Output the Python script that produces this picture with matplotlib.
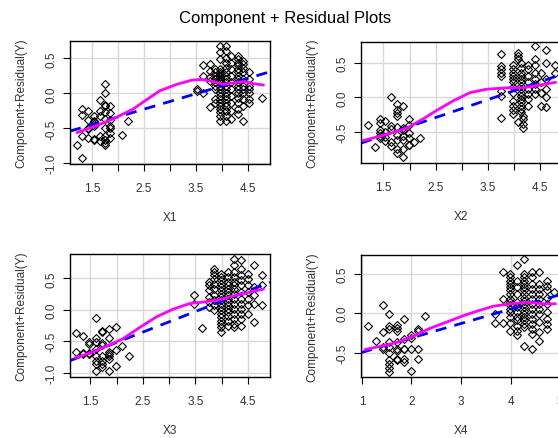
import matplotlib
matplotlib.use("Agg")
import matplotlib.pyplot as plt

plt.rcParams['font.family'] = ['Liberation Sans', 'DejaVu Sans']
plt.rcParams['axes.unicode_minus'] = False

title = "Component + Residual Plots"
ylabel = "Component+Residual(Y)"

# ---- X1 ----
x1_cols = [1.22, 1.31, 1.42, 1.55, 1.65, 1.76, 1.85, 2.07, 2.20,
           3.52, 3.63, 3.76, 3.86, 3.96, 4.07, 4.17, 4.30, 4.40, 4.51, 4.76]
y1_cols = [[-0.74], [-0.23, -0.31, -0.61, -0.92], [-0.25, -0.38, -0.49, -0.51, -0.64],
           [-0.32, -0.40, -0.41, -0.44, -0.46, -0.65, -0.67], [-0.10, -0.25, -0.33, -0.61, -0.68],
           [0.13, 0.00, -0.16, -0.18, -0.26, -0.37, -0.49, -0.61, -0.67, -0.71, -0.74],
           [-0.18, -0.28, -0.38, -0.47, -0.50, -0.57, -0.64], [-0.60], [-0.39],
           [0.06, 0.04], [0.40, 0.25, 0.01], [0.42, 0.32, 0.23, 0.18, -0.20],
           [0.35, 0.30, 0.25, 0.20, 0.16, 0.11, 0.06, -0.08, -0.13],
           [0.68, 0.59, 0.49, 0.35, 0.30, 0.28, 0.25, 0.23, 0.20, 0.18, 0.16, 0.11, 0.06, 0.01,
            -0.03, -0.08, -0.13, -0.18, -0.22, -0.27, -0.32, -0.39],
           [0.68, 0.61, 0.51, 0.44, 0.37, 0.30, 0.25, 0.20, 0.16, 0.11, 0.06, 0.01, -0.03,
            -0.08, -0.13, -0.18, -0.25, -0.32, -0.39],
           [0.54, 0.44, 0.35, 0.25, 0.16, 0.06, -0.03, -0.13, -0.25, -0.37],
           [0.54, 0.49, 0.44, 0.40, 0.35, 0.30, 0.25, 0.20, 0.16, 0.11, 0.06, 0.01, -0.06,
            -0.13, -0.22, -0.30],
           [0.47, 0.42, 0.37, 0.30, 0.20, 0.11, 0.06, 0.01, -0.08, -0.18, -0.39],
           [0.30, 0.20, 0.11, 0.06, 0.01, -0.08, -0.13], [-0.06]]
x1_fit = [1.08, 4.92]
y1_fit = [-0.54, 0.31]
x1_smooth = [1.22, 1.60, 1.98, 2.30, 2.55, 2.81, 3.13, 3.42, 3.61, 3.83, 4.02, 4.21, 4.44, 4.60, 4.79]
y1_smooth = [-0.56, -0.46, -0.34, -0.22, -0.09, 0.04, 0.13, 0.19, 0.20, 0.17, 0.13, 0.15, 0.17, 0.14, 0.12]

# ---- X2 ----
x2_cols = [1.21, 1.34, 1.43, 1.53, 1.64, 1.75, 1.87, 1.98, 2.09, 2.20,
           3.75, 3.98, 4.08, 4.14, 4.18, 4.27, 4.40, 4.51, 4.62, 4.78]
y2_cols = [[-0.41], [-0.73], [-0.32, -0.37, -0.47, -0.52, -0.56, -0.60], [-0.34, -0.51, -0.58, -0.64],
           [0.01, -0.42, -0.46, -0.65, -0.71],
           [-0.10, -0.19, -0.23, -0.27, -0.44, -0.55, -0.63, -0.76, -0.82],
           [-0.12, -0.45, -0.48, -0.56, -0.63, -0.75, -0.87],
           [-0.31, -0.40, -0.52, -0.60, -0.69, -0.70], [-0.65], [-0.59],
           [0.63, 0.46, 0.41, 0.36, 0.31, 0.10, 0.02, -0.30],
           [0.48, 0.41, 0.36, 0.31, 0.27, 0.22, 0.15, 0.07, -0.05, -0.12, -0.19, -0.24],
           [0.65, 0.60, 0.56, -0.36],
           [0.51, 0.43, 0.36, 0.31, 0.27, 0.22, 0.17, 0.12, 0.07, 0.02, -0.02, -0.07, -0.12,
            -0.17, -0.22],
           [-0.27, -0.31, -0.39, -0.45],
           [0.48, 0.41, 0.31, 0.22, 0.12, 0.05, -0.02, -0.12],
           [0.75, 0.56, 0.48, 0.36, 0.27, 0.19, 0.12, 0.05],
           [0.36, 0.22, 0.07, -0.12], [0.70, 0.51, 0.27, 0.12, 0.00, -0.14], [0.48, 0.36]]
x2_fit = [1.07, 4.85]
y2_fit = [-0.67, 0.32]
x2_smooth = [1.12, 1.62, 1.95, 2.27, 2.52, 2.84, 3.16, 3.48, 3.86, 4.18, 4.50, 4.79]
y2_smooth = [-0.63, -0.53, -0.45, -0.31, -0.19, -0.05, 0.07, 0.12, 0.14, 0.14, 0.18, 0.22]

# ---- X3 ----
x3_cols = [1.23, 1.35, 1.48, 1.61, 1.72, 1.85, 1.98, 2.10, 2.24,
           3.48, 3.62, 3.75, 3.86, 3.99, 4.12, 4.24, 4.37, 4.50, 4.62, 4.76]
y3_cols = [[-0.37, -0.67], [-0.41, -0.69, -0.71], [-0.51, -0.54, -0.68, -0.71],
           [-0.13, -0.45, -0.52, -0.62, -0.73, -0.81, -0.86, -0.97],
           [-0.33, -0.36, -0.53, -0.56, -0.73, -0.81, -0.86, -0.91],
           [-0.31, -0.45, -0.67, -0.70, -0.74, -0.78, -0.98],
           [-0.28, -0.64, -0.89], [-0.58], [-0.73],
           [0.23, 0.10], [-0.29], [0.44, 0.39, 0.31, 0.20, 0.12, 0.04],
           [0.65, 0.60, 0.55, 0.49, 0.41, 0.33, 0.23, 0.15, 0.07, -0.01],
           [0.57, 0.52, 0.47, 0.41, 0.36, 0.31, 0.26, 0.20, 0.15, 0.10, 0.04, -0.01, -0.06,
            -0.12, -0.17, -0.22, -0.28, -0.36],
           [0.60, 0.52, 0.44, 0.39, 0.33, 0.28, 0.23, 0.18, 0.12, 0.07, 0.02, -0.04, -0.09,
            -0.17, -0.25],
           [0.81, 0.71, 0.60, 0.52, 0.44, 0.39, 0.33, 0.26, 0.18, 0.10, 0.02, -0.06, -0.14,
            -0.22, -0.28],
           [0.79, 0.65, 0.55, 0.47, 0.39, 0.28, 0.18, 0.10, 0.02, -0.06, -0.14, -0.25],
           [0.57, 0.49, 0.39, 0.28, 0.18, 0.07, -0.06],
           [0.71, 0.36, 0.23, 0.10, -0.20], [0.55, 0.39, 0.07]]
x3_fit = [1.11, 4.92]
y3_fit = [-0.81, 0.44]
x3_smooth = [1.22, 1.52, 1.80, 2.12, 2.44, 2.76, 3.07, 3.39, 3.71, 3.96, 4.22, 4.53, 4.79]
y3_smooth = [-0.76, -0.68, -0.58, -0.46, -0.28, -0.11, 0.01, 0.10, 0.13, 0.16, 0.22, 0.28, 0.33]

# ---- X4 ----
x4_cols = [1.13, 1.28, 1.42, 1.55, 1.70, 1.85, 1.99, 2.14, 2.27,
           3.69, 3.85, 3.99, 4.14, 4.28, 4.43, 4.58, 4.73, 4.88]
y4_cols = [[-0.16], [-0.35], [0.10, -0.24, -0.43, -0.45],
           [-0.01, -0.16, -0.20, -0.37, -0.43, -0.50, -0.59, -0.64, -0.70, -0.75],
           [-0.15, -0.19, -0.23, -0.37, -0.45, -0.48, -0.58, -0.59],
           [-0.07, -0.33, -0.45, -0.46, -0.58, -0.62],
           [-0.28, -0.31, -0.45, -0.73], [-0.20, -0.22, -0.46, -0.58], [-0.03],
           [-0.01, -0.13], [0.53, 0.18, -0.12],
           [0.50, 0.46, 0.41, 0.37, 0.33, 0.29, 0.25, 0.18, 0.14, 0.10, 0.05, 0.01, -0.05,
            -0.12, -0.23],
           [0.61, 0.41, 0.33, 0.25, 0.14, 0.08, 0.01, -0.05, -0.09, -0.16, -0.22, -0.28],
           [0.69, 0.50, 0.46, 0.41, 0.37, 0.33, 0.29, 0.25, 0.20, 0.16, 0.12, 0.08, 0.03,
            -0.01, -0.05, -0.09, -0.14, -0.18, -0.41],
           [0.52, 0.46, 0.37, 0.31, 0.25, 0.18, 0.12, 0.05, -0.01, -0.07, -0.14, -0.20,
            -0.26, -0.45],
           [0.52, 0.37, 0.31, 0.25, 0.18, 0.12, 0.05, -0.01, -0.11, -0.24, -0.35],
           [0.41, 0.35, 0.29, 0.20, 0.12, 0.01, -0.07, -0.14, -0.20], [0.27]]
x4_fit = [0.98, 4.97]
y4_fit = [-0.50, 0.23]
x4_smooth = [1.07, 1.37, 1.71, 2.04, 2.38, 2.72, 3.05, 3.39, 3.66, 4.00, 4.33, 4.67, 4.90]
y4_smooth = [-0.46, -0.42, -0.37, -0.29, -0.19, -0.11, -0.03, 0.04, 0.09, 0.12, 0.14, 0.12, 0.12]

half_ticks = [1.5, 2.0, 2.5, 3.0, 3.5, 4.0, 4.5]
half_labels = ["1.5", "", "2.5", "", "3.5", "", "4.5"]
int_ticks = [1, 2, 3, 4, 5]
int_labels = ["1", "2", "3", "4", "5"]

W, H = 558, 439
panels = [
    ("X1", x1_cols, y1_cols, x1_fit, y1_fit, x1_smooth, y1_smooth, (70, 42, 270, 165),
     (1.08, 4.92), (-1.01, 0.75), half_ticks, half_labels, [-1.0, -0.5, 0.0, 0.5]),
    ("X2", x2_cols, y2_cols, x2_fit, y2_fit, x2_smooth, y2_smooth, (361, 43, 561, 164),
     (1.07, 4.90), (-0.96, 0.81), half_ticks, half_labels, [-0.5, 0.0, 0.5]),
    ("X3", x3_cols, y3_cols, x3_fit, y3_fit, x3_smooth, y3_smooth, (70, 255, 270, 378),
     (1.11, 4.92), (-1.07, 0.89), half_ticks, half_labels, [-1.0, -0.5, 0.0, 0.5]),
    ("X4", x4_cols, y4_cols, x4_fit, y4_fit, x4_smooth, y4_smooth, (361, 256, 561, 378),
     (0.98, 5.02), (-0.81, 0.74), int_ticks, int_labels, [-0.5, 0.0, 0.5]),
]

fig = plt.figure(figsize=(W / 100, H / 100), dpi=100)
fig.text(285 / W, 1 - 18 / H, title, ha='center', va='center', fontsize=12)

for name, xc, yc, fx, fy, sx, sy, box, xlim, ylim, xt, xtl, yt in panels:
    l, t, r, b = box
    ax = fig.add_axes([l / W, 1 - b / H, (r - l) / W, (b - t) / H])
    xs = [x for x, col in zip(xc, yc) for _ in col]
    ys = [y for col in yc for y in col]
    ax.set_axisbelow(True)
    ax.grid(True, color='#d9d9d9', lw=1)
    ax.plot(xs, ys, ls='none', marker='D', ms=4, mfc='none', mec='black', mew=0.8)
    ax.plot(fx, fy, color='blue', ls=(0, (4, 3)), lw=2)
    ax.plot(sx, sy, color='magenta', lw=2)
    ax.set_xlim(*xlim)
    ax.set_ylim(*ylim)
    ax.set_xticks(xt)
    ax.set_xticklabels(xtl)
    ax.set_yticks(yt)
    ax.set_yticklabels([f"{v:.1f}" for v in yt])
    for lab in ax.get_yticklabels():
        lab.set_rotation(90)
        lab.set_va('center')
    ax.tick_params(direction='out', length=5, width=0.8, labelsize=8.5, pad=8, colors='black')
    ax.tick_params(axis='x', labelcolor='#333333')
    ax.tick_params(axis='y', labelcolor='#333333', pad=4)
    for sp in ax.spines.values():
        sp.set_linewidth(1)
    ax.set_xlabel(name, fontsize=8.5, labelpad=12, color='#333333')
    ax.set_ylabel(ylabel, fontsize=8.5, labelpad=13, color='#333333')

fig.savefig("out.png", dpi=100)
